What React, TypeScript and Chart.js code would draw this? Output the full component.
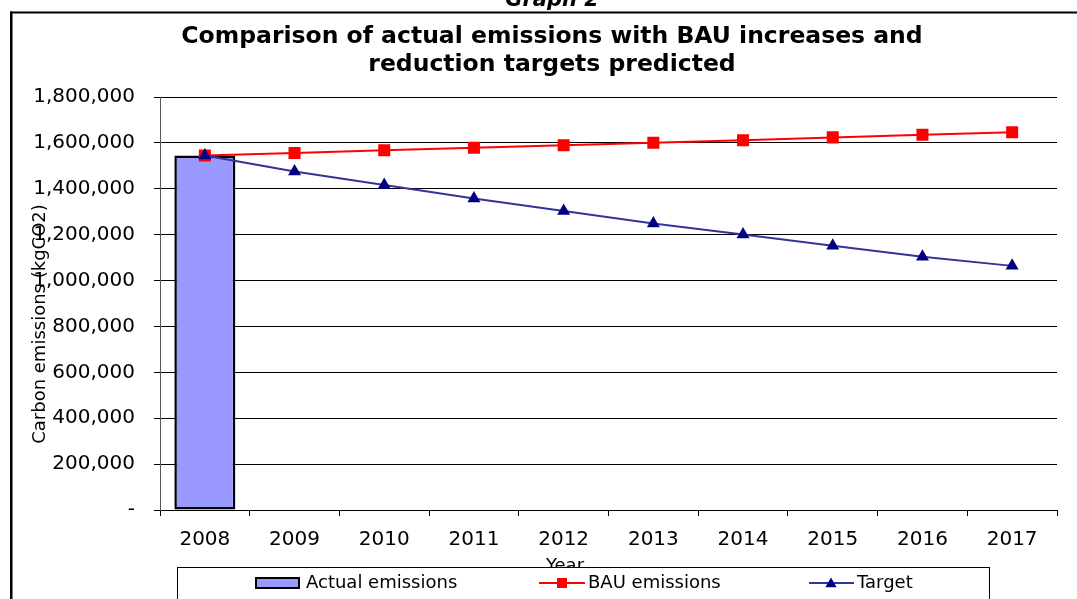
import React, { useEffect, useRef } from 'react';
import { Chart, registerables } from 'chart.js';

Chart.register(...registerables);

const years = ['2008', '2009', '2010', '2011', '2012', '2013', '2014', '2015', '2016', '2017'];
const actualEmissions = [1545000, null, null, null, null, null, null, null, null, null];
const bauEmissions = [1545000, 1556000, 1568000, 1579000, 1590000, 1601000, 1612000, 1624000, 1635000, 1646000];
const targetEmissions = [1545000, 1475000, 1416000, 1358000, 1303000, 1249000, 1201000, 1152000, 1104000, 1064000];
const yMin = 0;
const yMax = 1800000;
const yStep = 200000;

const titleLines = ['Comparison of actual emissions with BAU increases and', 'reduction targets predicted'];
const legendLabels = ['Actual emissions', 'BAU emissions', 'Target'];
const yTitle = 'Carbon emissions (kgCO2)';
const xTitle = 'Year';
const graphCaption = 'Graph 2';

const FAMILY = '"DejaVu Sans", "Liberation Sans", sans-serif';
const BAR_FILL = '#9999FF';
const BAU_COLOR = '#FF0000';
const TARGET_LINE = '#333399';
const TARGET_POINT = '#000080';

function triangle(ctx: CanvasRenderingContext2D, x: number, y: number, r: number) {
  ctx.beginPath();
  ctx.moveTo(x, y - r);
  ctx.lineTo(x + r * Math.sin(Math.PI / 3), y + r / 2);
  ctx.lineTo(x - r * Math.sin(Math.PI / 3), y + r / 2);
  ctx.closePath();
  ctx.fill();
}

const overlayPlugin = {
  id: 'overlay',
  afterDraw(chart: any) {
    const ctx: CanvasRenderingContext2D = chart.ctx;
    ctx.save();
    // frame
    ctx.fillStyle = '#000';
    ctx.fillRect(10, 11.5, 1067, 2);
    ctx.fillRect(10, 11.5, 2.5, 600);

    // caption
    ctx.fillStyle = '#000';
    ctx.textAlign = 'center';
    ctx.textBaseline = 'alphabetic';
    ctx.font = `bold italic 21px ${FAMILY}`;
    ctx.fillText(graphCaption, 552, 6);

    // title
    ctx.font = `bold 23.5px ${FAMILY}`;
    ctx.textBaseline = 'middle';
    ctx.fillText(titleLines[0], 552, 37);
    ctx.fillText(titleLines[1], 552, 65);

    // y title
    ctx.save();
    ctx.translate(40, 324);
    ctx.rotate(-Math.PI / 2);
    ctx.font = `18px ${FAMILY}`;
    ctx.textAlign = 'center';
    ctx.textBaseline = 'middle';
    ctx.fillText(yTitle, 0, 0);
    ctx.restore();

    // x title (partly hidden by legend)
    ctx.font = `18px ${FAMILY}`;
    ctx.textAlign = 'center';
    ctx.textBaseline = 'top';
    ctx.fillText(xTitle, 565, 557);

    // legend box
    ctx.fillStyle = '#fff';
    ctx.fillRect(177, 567, 813, 50);
    ctx.strokeStyle = '#000';
    ctx.lineWidth = 1;
    ctx.strokeRect(177.5, 567.5, 812, 50);

    const ly = 583;
    ctx.font = `18px ${FAMILY}`;
    ctx.textAlign = 'left';
    ctx.textBaseline = 'middle';

    // actual swatch
    ctx.fillStyle = BAR_FILL;
    ctx.fillRect(256, 578, 43, 10);
    ctx.strokeStyle = '#000';
    ctx.lineWidth = 2;
    ctx.strokeRect(256, 578, 43, 10);
    ctx.fillStyle = '#000';
    ctx.fillText(legendLabels[0], 306, ly);

    // BAU swatch
    ctx.strokeStyle = BAU_COLOR;
    ctx.lineWidth = 2;
    ctx.beginPath();
    ctx.moveTo(539, ly);
    ctx.lineTo(585, ly);
    ctx.stroke();
    ctx.fillStyle = BAU_COLOR;
    ctx.fillRect(557, ly - 5, 10, 10);
    ctx.fillStyle = '#000';
    ctx.fillText(legendLabels[1], 588, ly);

    // Target swatch
    ctx.strokeStyle = TARGET_LINE;
    ctx.beginPath();
    ctx.moveTo(809, ly);
    ctx.lineTo(854, ly);
    ctx.stroke();
    ctx.fillStyle = TARGET_POINT;
    triangle(ctx, 831, ly + 1, 6.5);
    ctx.fillStyle = '#000';
    ctx.fillText(legendLabels[2], 857, ly);

    ctx.restore();
  },
};

export default function App() {
  const canvasRef = useRef<HTMLCanvasElement | null>(null);

  useEffect(() => {
    if (!canvasRef.current) return;
    const chart = new Chart(canvasRef.current, {
      type: 'bar',
      data: {
        labels: years,
        datasets: [
          {
            type: 'line',
            label: legendLabels[2],
            data: targetEmissions,
            borderColor: TARGET_LINE,
            borderWidth: 2,
            pointStyle: 'triangle',
            pointRadius: 7.5,
            pointBackgroundColor: TARGET_POINT,
            pointBorderWidth: 0,
            fill: false,
            tension: 0,
            order: 0,
          } as any,
          {
            type: 'line',
            label: legendLabels[1],
            data: bauEmissions,
            borderColor: BAU_COLOR,
            borderWidth: 2,
            pointStyle: 'rect',
            pointRadius: 8.5,
            pointBackgroundColor: BAU_COLOR,
            pointBorderWidth: 0,
            fill: false,
            tension: 0,
            order: 1,
          } as any,
          {
            type: 'bar',
            label: legendLabels[0],
            data: actualEmissions,
            backgroundColor: BAR_FILL,
            borderColor: '#000',
            borderWidth: 2.5,
            borderSkipped: false,
            categoryPercentage: 1,
            barPercentage: 0.68,
            order: 2,
          } as any,
        ],
      },
      options: {
        responsive: false,
        animation: false,
        layout: { padding: { top: 97, right: 20, bottom: 0, left: 0 } },
        plugins: {
          legend: { display: false },
          title: { display: false },
          tooltip: { enabled: false },
        },
        scales: {
          x: {
            offset: true,
            grid: { offset: true, drawOnChartArea: false, drawTicks: true, tickLength: 6, color: '#000', lineWidth: 1 },
            border: { display: true, color: '#000', width: 1 },
            ticks: {
              font: { family: FAMILY, size: 20 },
              color: '#000',
              padding: 12,
              maxRotation: 0,
              autoSkip: false,
            },
            afterFit: (s: any) => {
              s.height = 89;
            },
          },
          y: {
            min: yMin,
            max: yMax,
            ticks: {
              stepSize: yStep,
              font: { family: FAMILY, size: 20 },
              color: '#000',
              padding: 19,
              callback: (v: any) => (Number(v) === 0 ? '-' : Number(v).toLocaleString('en-US')),
            },
            grid: { color: '#000', lineWidth: 1, tickLength: 6, drawTicks: true },
            border: { display: true, color: '#555', width: 1 },
            afterFit: (s: any) => {
              s.width = 160;
            },
          },
        },
      } as any,
      plugins: [overlayPlugin],
    });
    return () => chart.destroy();
  }, []);

  return (
    <div style={{ position: 'absolute', left: 0, top: 0, width: 1077, height: 599, background: '#fff' }}>
      <canvas ref={canvasRef} width={1077} height={599} style={{ display: 'block' }} />
    </div>
  );
}
